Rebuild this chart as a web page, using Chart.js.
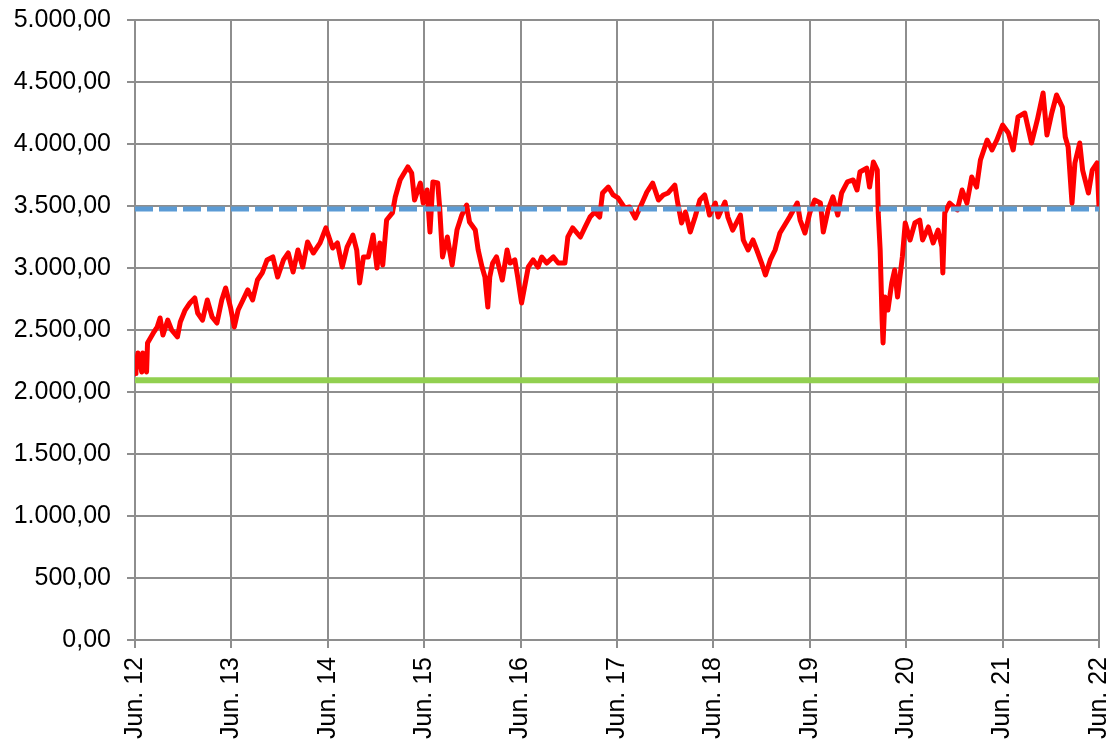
<!DOCTYPE html>
<html>
<head>
<meta charset="utf-8">
<script src="https://cdn.jsdelivr.net/npm/chart.js@4/dist/chart.umd.min.js"></script>
<style>
  html, body { margin: 0; padding: 0; background: #fff; overflow: hidden; }
  #wrap { width: 1107px; height: 746px; }
</style>
</head>
<body>
<div id="wrap"><canvas id="chart" width="1107" height="746"></canvas></div>
<script>
// x axis: years since Jun. 12
const xTickLabels = ["Jun. 12", "Jun. 13", "Jun. 14", "Jun. 15", "Jun. 16", "Jun. 17",
  "Jun. 18", "Jun. 19", "Jun. 20", "Jun. 21", "Jun. 22"];
const yTickLabels = ["0,00", "500,00", "1.000,00", "1.500,00", "2.000,00", "2.500,00",
  "3.000,00", "3.500,00", "4.000,00", "4.500,00", "5.000,00"];

// index series
const years = [
  0, 0.01, 0.03, 0.07, 0.08, 0.12, 0.13, 0.19, 0.23, 0.26, 0.29, 0.34, 0.38, 0.44, 0.47, 0.52,
  0.57, 0.62, 0.65, 0.70, 0.75, 0.80, 0.85, 0.90, 0.94, 0.99, 1.03, 1.07, 1.12, 1.17, 1.22, 1.27,
  1.32, 1.37, 1.43, 1.48, 1.54, 1.59, 1.64, 1.69, 1.74, 1.79, 1.85, 1.92, 1.98, 2.05,
  2.10, 2.15, 2.20, 2.26, 2.30, 2.33, 2.37, 2.42, 2.47, 2.51, 2.54, 2.57, 2.61, 2.67, 2.70, 2.75,
  2.78, 2.83, 2.87, 2.90, 2.96, 2.99, 3.03, 3.06, 3.09, 3.14, 3.16, 3.19, 3.24, 3.29, 3.34, 3.39,
  3.44, 3.47, 3.53, 3.56, 3.60, 3.63, 3.66, 3.68, 3.71, 3.75, 3.81, 3.86, 3.89, 3.94, 3.97, 4.01,
  4.08, 4.13, 4.18, 4.22, 4.27, 4.34, 4.39, 4.46, 4.49, 4.54, 4.62, 4.67, 4.72, 4.77, 4.82, 4.85,
  4.91, 4.96, 5.01, 5.08, 5.13, 5.19, 5.26, 5.31, 5.37, 5.43, 5.48, 5.53, 5.60, 5.63, 5.67, 5.71,
  5.76, 5.81, 5.86, 5.91, 5.96, 6.02,
  6.05, 6.12, 6.15, 6.20, 6.28, 6.31, 6.36, 6.41, 6.45, 6.50, 6.54, 6.59, 6.64, 6.69, 6.74, 6.79,
  6.87, 6.90, 6.95, 7.00, 7.05, 7.11, 7.14, 7.19, 7.24, 7.29, 7.33, 7.39, 7.45, 7.49, 7.52, 7.59,
  7.62, 7.66, 7.70, 7.71, 7.73, 7.75, 7.76, 7.78, 7.81, 7.85, 7.88, 7.91, 7.96,
  7.99, 8.04, 8.09, 8.14, 8.17, 8.23, 8.28, 8.33, 8.37, 8.38, 8.40, 8.45, 8.53, 8.58, 8.63, 8.68,
  8.73, 8.77, 8.84, 8.89, 8.94, 9.00, 9.06, 9.11, 9.16, 9.23, 9.30, 9.36, 9.42, 9.46, 9.51, 9.56,
  9.62, 9.65, 9.68, 9.72, 9.75, 9.80, 9.83, 9.89, 9.93, 9.98, 10.00
];
const indexValues = [
  2150, 2204, 2314, 2161, 2314, 2161, 2395, 2476, 2524, 2597, 2460, 2580, 2500, 2444, 2565, 2661,
  2718, 2758, 2637, 2580, 2742, 2605, 2556, 2742, 2839, 2685, 2524, 2661, 2742, 2823, 2742, 2903,
  2960, 3065, 3089, 2927, 3065, 3121, 2968, 3145, 3008, 3210, 3121, 3202, 3323, 3161,
  3202, 3008, 3169, 3266, 3145, 2879, 3089, 3089, 3266, 3000, 3202, 3024, 3387, 3444, 3573, 3710,
  3750, 3815, 3766, 3548, 3685, 3524, 3629, 3290, 3694, 3685, 3492, 3089, 3250, 3024, 3306, 3427,
  3508, 3371, 3306, 3145, 3008, 2927, 2685, 2927, 3040, 3089, 2903, 3145, 3040, 3065, 2927, 2718,
  3008, 3065, 3008, 3089, 3040, 3089, 3040, 3040, 3250, 3323, 3250, 3331, 3411, 3452, 3411, 3605,
  3653, 3589, 3565, 3484, 3492, 3403, 3524, 3613, 3685, 3548, 3589, 3605, 3669, 3524, 3363, 3452,
  3290, 3411, 3548, 3589, 3427, 3524,
  3411, 3532, 3411, 3306, 3427, 3226, 3145, 3226, 3145, 3040, 2944, 3065, 3145, 3282, 3347, 3411,
  3524, 3387, 3282, 3444, 3548, 3524, 3290, 3468, 3573, 3427, 3605, 3694, 3710, 3629, 3774, 3806,
  3653, 3855, 3790, 3444, 3145, 2581, 2395, 2766, 2661, 2879, 2984, 2766, 3089,
  3363, 3226, 3363, 3387, 3226, 3331, 3202, 3306, 3169, 2960, 3444, 3524, 3468, 3629, 3524, 3734,
  3653, 3871, 4032, 3952, 4032, 4153, 4089, 3952, 4218, 4250, 4008, 4194, 4411, 4073, 4250, 4395,
  4298, 4056, 3976, 3524, 3847, 4008, 3790, 3605, 3790, 3847, 3492
];

// reference lines
const upperLevel = 3475;
const lowerLevel = 2095;

const gridColor = "#8e8e8e";
const labelFont = { family: "Liberation Sans, Arial, sans-serif", size: 25 };

const indexPoints = years.map((t, i) => ({ x: t, y: indexValues[i] }));

function zeroPadding(scale) {
  scale.paddingLeft = 0;
  scale.paddingRight = 0;
  scale.paddingTop = 0;
  scale.paddingBottom = 0;
}

const ctx = document.getElementById("chart").getContext("2d");
new Chart(ctx, {
  type: "line",
  data: {
    datasets: [
      {
        label: "upper",
        data: [{ x: 0, y: upperLevel }, { x: 10, y: upperLevel }],
        borderColor: "#5b9bd5",
        borderWidth: 5,
        borderDash: [18, 6],
        pointRadius: 0,
        order: 0,
      },
      {
        label: "index",
        data: indexPoints,
        borderColor: "#ff0000",
        borderWidth: 5,
        borderJoinStyle: "round",
        borderCapStyle: "round",
        pointRadius: 0,
        tension: 0,
        order: 1,
      },
      {
        label: "lower",
        data: [{ x: 0, y: lowerLevel }, { x: 10, y: lowerLevel }],
        borderColor: "#92d050",
        borderWidth: 6,
        pointRadius: 0,
        order: 2,
      },
    ],
  },
  options: {
    responsive: false,
    animation: false,
    layout: { padding: { top: 20, right: 8, left: 0, bottom: 0 } },
    plugins: {
      legend: { display: false },
      tooltip: { enabled: false },
    },
    scales: {
      x: {
        type: "linear",
        min: 0,
        max: 10,
        afterFit: (s) => { s.height = 106; zeroPadding(s); },
        ticks: {
          stepSize: 1,
          autoSkip: false,
          minRotation: 90,
          maxRotation: 90,
          padding: 9,
          color: "#000",
          font: labelFont,
          callback: (value) => xTickLabels[value],
        },
        grid: { color: gridColor, lineWidth: 2, tickLength: 8, tickColor: gridColor },
        border: { color: gridColor, width: 2 },
      },
      y: {
        min: 0,
        max: 5000,
        afterFit: (s) => { s.width = 135; zeroPadding(s); },
        ticks: {
          stepSize: 500,
          padding: 16,
          color: "#000",
          font: labelFont,
          callback: (value, index) => yTickLabels[index],
        },
        grid: { color: gridColor, lineWidth: 2, tickLength: 8, tickColor: gridColor },
        border: { color: gridColor, width: 2 },
      },
    },
  },
});
</script>
</body>
</html>
